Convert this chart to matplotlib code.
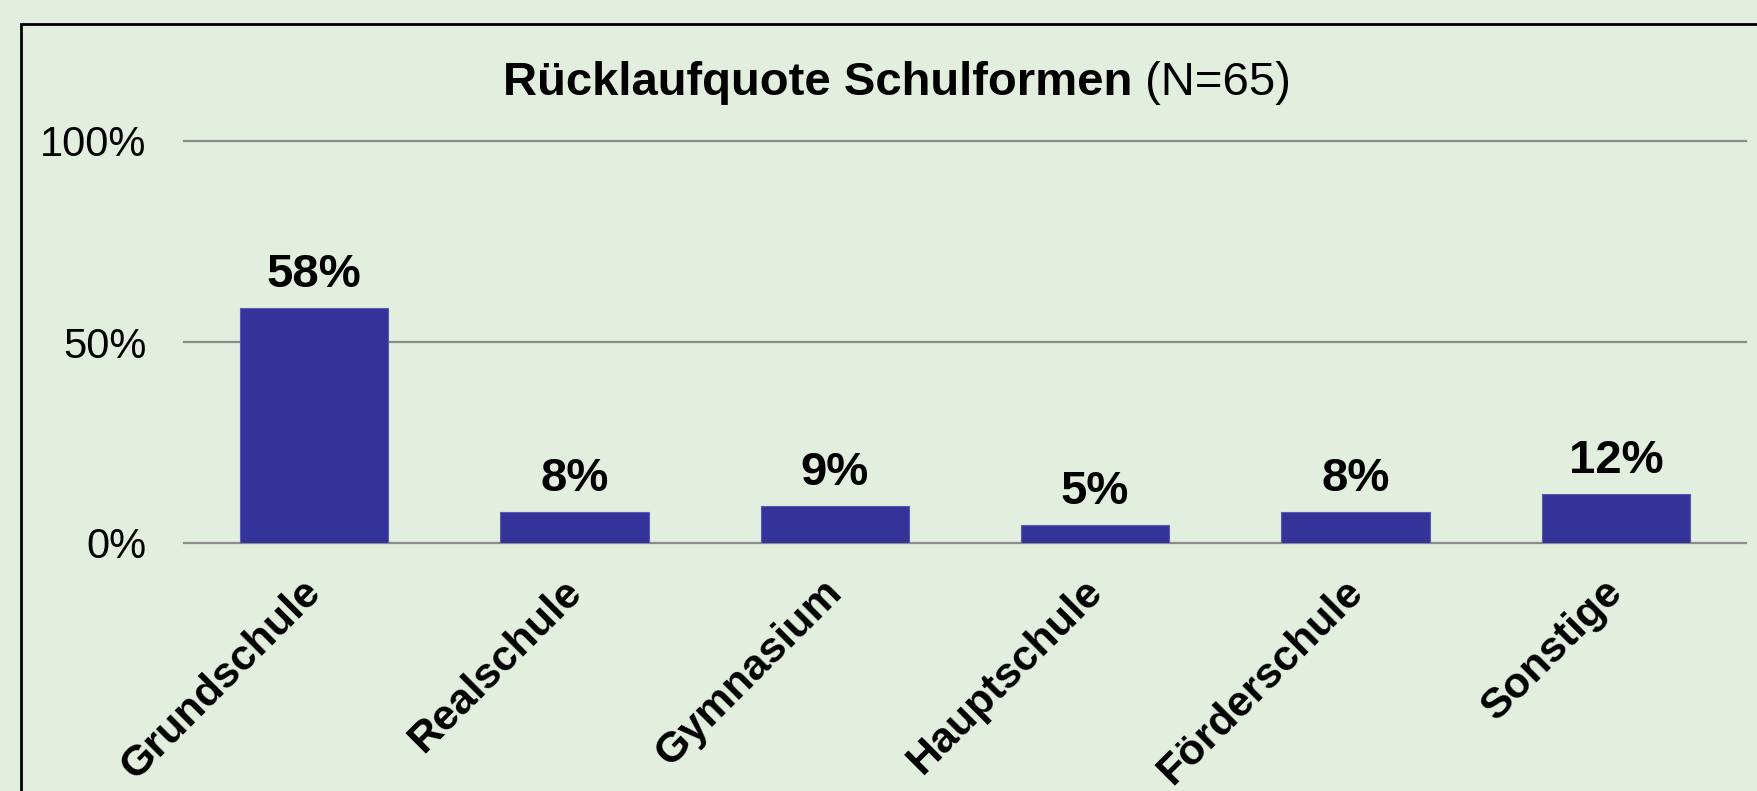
import matplotlib
matplotlib.use("Agg")
import matplotlib.pyplot as plt
import matplotlib.transforms as mtransforms
from matplotlib.patches import Rectangle

# Daten
schulformen = ["Grundschule", "Realschule", "Gymnasium", "Hauptschule", "Förderschule", "Sonstige"]
anteile = [58.5, 7.7, 9.2, 4.6, 7.7, 12.3]
y_ticks = [0, 50, 100]
y_tick_labels = ["0%", "50%", "100%"]
titel = "Rücklaufquote Schulformen"
titel_zusatz = " (N=65)"

W, H = 1757, 791
bg = "#E2EEDE"
bar_color = "#333399"
grid_color = "#8C8C8C"

plt.rcParams["font.family"] = ["Liberation Sans", "DejaVu Sans"]

fig = plt.figure(figsize=(W / 100, H / 100), dpi=100, facecolor=bg)
ax = fig.add_axes([184 / W, 1 - 543 / H, (1746 - 184) / W, (543 - 141) / H])
ax.set_facecolor(bg)
ax.set_xlim(-0.5, len(schulformen) - 0.5)
ax.set_ylim(0, 100)

# Gitterlinien + Nulllinie
for v in y_ticks:
    ax.axhline(v, color=grid_color, lw=1.6, zorder=0, clip_on=False)

bars = ax.bar(range(len(schulformen)), anteile, width=0.57, color=bar_color,
              edgecolor="#5a5ab0", linewidth=0.8, zorder=2)

for b, v in zip(bars, anteile):
    ax.annotate(f"{round(v)}%", xy=(b.get_x() + b.get_width() / 2, v),
                xytext=(0, 15), textcoords="offset points",
                ha="center", va="baseline", fontsize=34, fontweight="bold")

for s in ax.spines.values():
    s.set_visible(False)

ax.set_yticks(y_ticks)
ax.set_yticklabels(y_tick_labels)
ax.tick_params(axis="y", length=0, pad=27, labelsize=30)

ax.set_xticks(range(len(schulformen)))
ax.set_xticklabels(schulformen, rotation=45, ha="right", va="center",
                   rotation_mode="anchor", fontsize=31, fontweight="bold")
ax.tick_params(axis="x", length=0, pad=31)
shift = mtransforms.ScaledTranslation(1 / 100, 0, fig.dpi_scale_trans)
for lab in ax.get_xticklabels():
    lab.set_transform(lab.get_transform() + shift)

# Rahmen (rechts und unten abgeschnitten)
fig.add_artist(Rectangle((21 / W, -0.2), 1.5, (1 - 24 / H) + 0.2,
                         transform=fig.transFigure, fill=False,
                         edgecolor="black", lw=2, clip_on=False))

# Titel: fetter Teil + normaler Zusatz, zusammen zentriert
t1 = fig.text(0.5, 1 - 95 / H, titel, ha="left", va="baseline",
              fontsize=34, fontweight="bold")
t2 = fig.text(0.5, 1 - 95 / H, titel_zusatz, ha="left", va="baseline",
              fontsize=34)
fig.canvas.draw()
r = fig.canvas.get_renderer()
w1 = t1.get_window_extent(r).width
w2 = t2.get_window_extent(r).width
x0 = 897 - (w1 + w2) / 2
t1.set_x(x0 / W)
t2.set_x((x0 + w1) / W)

fig.savefig("out.png", dpi=100, facecolor=bg)
